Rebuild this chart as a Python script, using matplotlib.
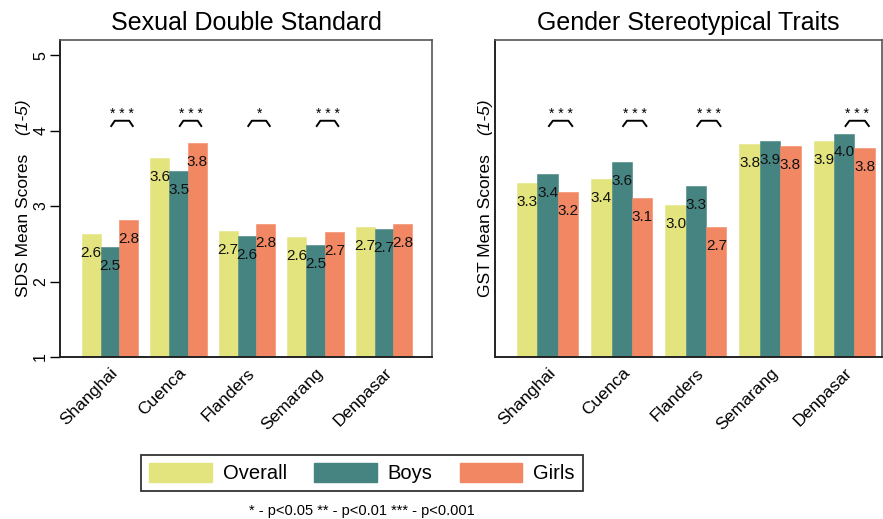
import matplotlib
matplotlib.use("Agg")
import matplotlib.pyplot as plt
import numpy as np
from matplotlib.patches import Patch

plt.rcParams['font.family'] = ['Liberation Sans', 'DejaVu Sans']

sites = ["Shanghai", "Cuenca", "Flanders", "Semarang", "Denpasar"]
groups = ["Overall", "Boys", "Girls"]
colors = ["#e3e47e", "#468482", "#f28763"]

# mean scores on the 1-5 scale
sds_overall = [2.63, 3.64, 2.67, 2.59, 2.72]
sds_boys = [2.46, 3.46, 2.60, 2.48, 2.70]
sds_girls = [2.82, 3.83, 2.76, 2.66, 2.76]

gst_overall = [3.30, 3.36, 3.01, 3.82, 3.86]
gst_boys = [3.42, 3.58, 3.26, 3.86, 3.96]
gst_girls = [3.19, 3.11, 2.72, 3.79, 3.77]

# boys vs girls significance stars
sds_sig = ["***", "***", "*", "***", ""]
gst_sig = ["***", "***", "***", "", "***"]

W, H = 883, 519
fig = plt.figure(figsize=(W / 100, H / 100), dpi=100)
ax1 = fig.add_axes([60 / W, 1 - 357 / H, 372 / W, 317 / H])
ax2 = fig.add_axes([495 / W, 1 - 357 / H, 387 / W, 317 / H])


def ylabel(ax, name, xfrac):
    # plain part first, italic range stacked above it
    t1 = ax.text(xfrac, 0.189, name + " Mean Scores", transform=ax.transAxes,
                 rotation=90, ha='right', va='bottom', fontsize=12.5)
    ax.annotate("(1-5)", xy=(1, 1), xycoords=t1, xytext=(-1, 19),
                textcoords='offset pixels', rotation=90, ha='right',
                va='bottom', fontsize=12.5, style='italic')


def panel(ax, series, sig, title, xlim, showticks):
    x = np.arange(len(sites))
    bw = 0.275
    for i, vals in enumerate(series):
        xs = x + (i - 1) * bw
        ax.bar(xs, vals, bw, bottom=0, color=colors[i], edgecolor=colors[i],
               linewidth=0.4)
        for xi, v in zip(xs, vals):
            ax.text(xi, v - 0.25, f"{v:.1f}", ha='center', va='center',
                    fontsize=11, color='#111111')
    for xi, s in zip(x, sig):
        if not s:
            continue
        x0, x1 = xi + 0.01, xi + 0.34
        ax.plot([x0, x0 + 0.06, x1 - 0.06, x1], [4.05, 4.13, 4.13, 4.05],
                color='black', lw=1.4, solid_capstyle='butt')
        ax.text((x0 + x1) / 2, 4.17, " ".join(s), ha='center', va='baseline',
                fontsize=10)
    ax.set_ylim(1, 5.2)
    ax.set_xlim(*xlim)
    ax.set_xticks(x)
    ax.set_xticklabels(sites, rotation=45, ha='right', rotation_mode='anchor',
                       fontsize=12.5)
    ax.tick_params(axis='x', length=0, pad=6)
    if showticks:
        ax.set_yticks([1, 2, 3, 4, 5])
        ax.set_yticklabels(["1", "2", "3", "4", "5"], rotation=90, va='center',
                           fontsize=11.5)
        ax.tick_params(axis='y', length=7, width=1, pad=1.5)
    else:
        ax.set_yticks([])
    ax.set_title(title, fontsize=18, pad=7)
    for side in ['left', 'bottom']:
        ax.spines[side].set_linewidth(1.4)
        ax.spines[side].set_color('#222222')
    for side in ['top', 'right']:
        ax.spines[side].set_linewidth(1.2)
        ax.spines[side].set_color('#555555')


panel(ax1, [sds_overall, sds_boys, sds_girls], sds_sig,
      "Sexual Double Standard", (-0.73, 4.70), True)
ylabel(ax1, "SDS", -0.078)

panel(ax2, [gst_overall, gst_boys, gst_girls], gst_sig,
      "Gender Stereotypical Traits", (-0.71, 4.51), False)
ylabel(ax2, "GST", -0.004)

handles = [Patch(facecolor=c, edgecolor=c) for c in colors]
leg = fig.legend(handles, groups, loc='center', ncol=3,
                 bbox_to_anchor=(362 / W, 1 - 473 / H),
                 prop={'size': 14.5},
                 handlelength=3.1, handleheight=1.05, handletextpad=0.55,
                 columnspacing=1.35, borderpad=0.4, fancybox=False,
                 edgecolor='#333333', framealpha=1)
leg.get_frame().set_linewidth(1.3)

fig.text(362 / W, 1 - 511 / H, "* - p<0.05 ** - p<0.01 *** - p<0.001",
         ha='center', va='center', fontsize=10.5)

fig.savefig("out.png", dpi=100)
